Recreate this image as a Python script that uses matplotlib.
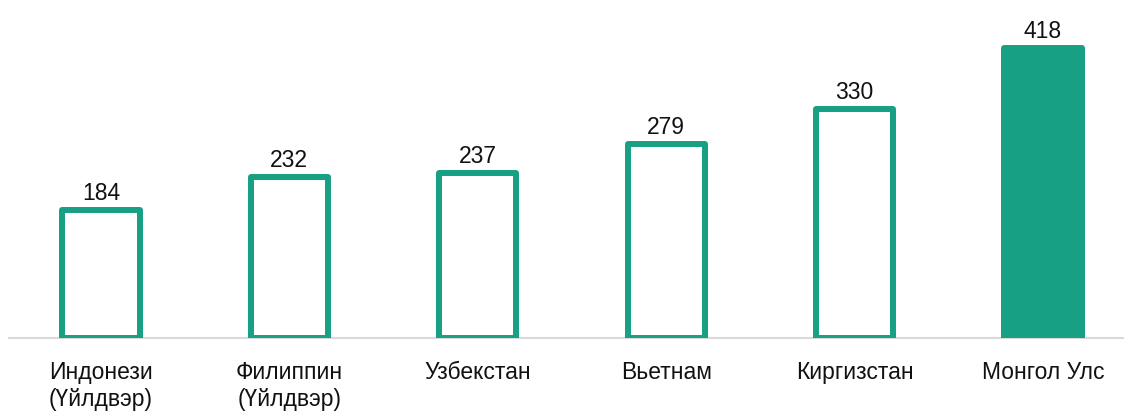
import matplotlib.pyplot as plt

countries = ["Индонези\n(Үйлдвэр)", "Филиппин\n(Үйлдвэр)", "Узбекстан",
             "Вьетнам", "Киргизстан", "Монгол Улс"]
values = [184, 232, 237, 279, 330, 418]
filled = [False, False, False, False, False, True]

teal = "#17a084"
plt.rcParams['font.family'] = ['Liberation Sans', 'DejaVu Sans']

fig = plt.figure(figsize=(11.24, 4.14), dpi=100)
ax = fig.add_axes([9 / 1124, 75 / 414, 1 - 9 / 1124, 339 / 414])

x = list(range(len(values)))
for i, v in enumerate(values):
    ax.bar(i, v, width=0.41, facecolor=teal if filled[i] else "white",
           edgecolor=teal, linewidth=4.3, joinstyle="round", zorder=2)
    ax.annotate(str(v), (i, v), xytext=(0, 8), textcoords="offset points",
                ha="center", va="baseline", fontsize=16.5, color="#111111")

ax.set_xlim(-0.488, 5.43)
ax.set_ylim(0, 488)
ax.set_xticks(x)
ax.set_xticklabels(countries, fontsize=16.5, color="#111111", linespacing=1.2)
ax.tick_params(axis="x", length=0, pad=16)
ax.set_yticks([])
for s in ["top", "right", "left"]:
    ax.spines[s].set_visible(False)
ax.spines["bottom"].set_color("#d9d9d9")
ax.spines["bottom"].set_linewidth(1.5)
ax.spines["bottom"].set_zorder(1)

fig.savefig("out.png", dpi=100)
